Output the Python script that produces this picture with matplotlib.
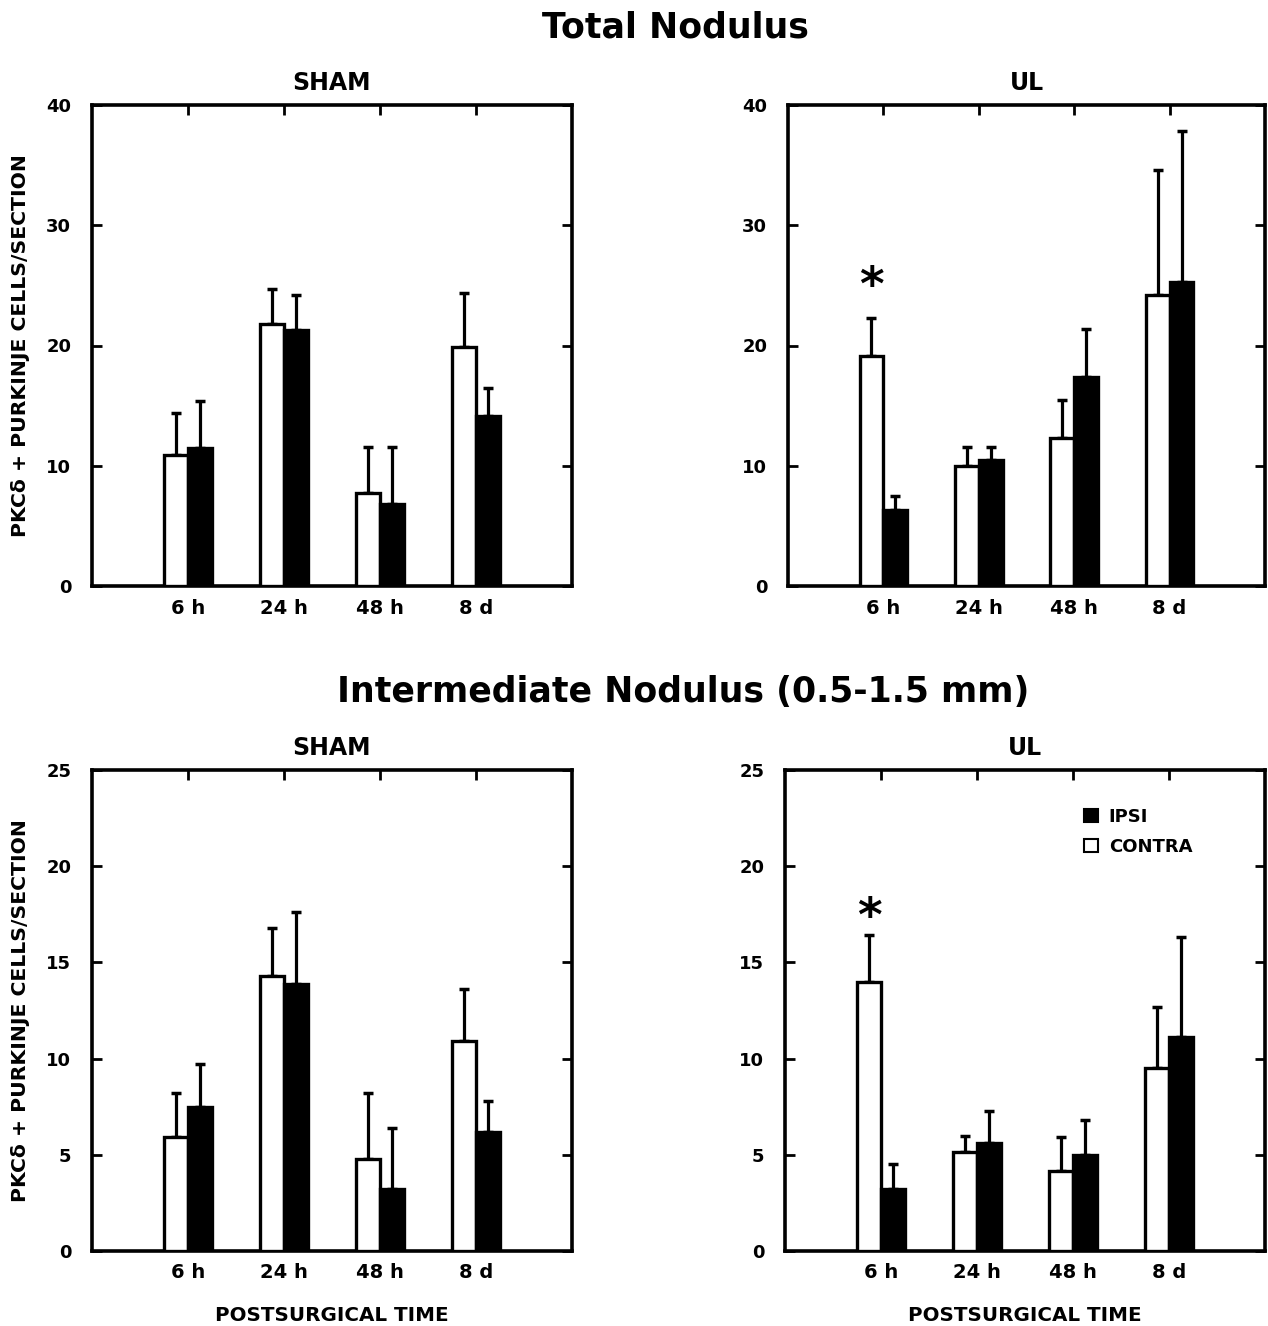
import matplotlib
matplotlib.use("Agg")
import matplotlib.pyplot as plt
import matplotlib.patches as mpatches
import numpy as np

plt.rcParams['font.family'] = ['DejaVu Sans']
plt.rcParams['font.weight'] = 'bold'

times = ["6 h", "24 h", "48 h", "8 d"]

# Total nodulus
total_sham_contra = [10.9, 21.8, 7.7, 19.9]
total_sham_contra_err = [3.5, 2.9, 3.9, 4.5]
total_sham_ipsi = [11.5, 21.3, 6.8, 14.1]
total_sham_ipsi_err = [3.9, 2.9, 4.8, 2.4]

total_ul_contra = [19.1, 10.0, 12.3, 24.2]
total_ul_contra_err = [3.2, 1.6, 3.2, 10.4]
total_ul_ipsi = [6.3, 10.5, 17.4, 25.3]
total_ul_ipsi_err = [1.2, 1.1, 4.0, 12.5]

# Intermediate nodulus (0.5-1.5 mm)
inter_sham_contra = [5.95, 14.3, 4.8, 10.9]
inter_sham_contra_err = [2.25, 2.5, 3.4, 2.7]
inter_sham_ipsi = [7.5, 13.9, 3.2, 6.2]
inter_sham_ipsi_err = [2.2, 3.7, 3.2, 1.6]

inter_ul_contra = [14.0, 5.15, 4.15, 9.5]
inter_ul_contra_err = [2.4, 0.85, 1.75, 3.2]
inter_ul_ipsi = [3.2, 5.6, 5.0, 11.1]
inter_ul_ipsi_err = [1.3, 1.7, 1.8, 5.2]

W, H = 1268, 1326
fig = plt.figure(figsize=(W / 100, H / 100), dpi=100)


def px_axes(x0, y0, x1, y1):
    return fig.add_axes([x0 / W, 1 - y1 / H, (x1 - x0) / W, (y1 - y0) / H])


def draw_panel(ax, contra, contra_err, ipsi, ipsi_err, ymax, step, star=None):
    x = np.arange(1, len(times) + 1)
    w = 0.25
    ax.bar(x - w / 2, contra, w, color='white', edgecolor='black', linewidth=2.4, zorder=3)
    ax.bar(x + w / 2, ipsi, w, color='black', edgecolor='black', linewidth=2.4, zorder=3)
    zeros = np.zeros(len(times))
    ax.errorbar(x - w / 2, contra, yerr=[zeros, contra_err], fmt='none', ecolor='black',
                elinewidth=2.3, capsize=3.5, capthick=2.5, zorder=2)
    ax.errorbar(x + w / 2, ipsi, yerr=[zeros, ipsi_err], fmt='none', ecolor='black',
                elinewidth=2.3, capsize=3.5, capthick=2.5, zorder=2)
    ax.set_xlim(0, 5)
    ax.set_ylim(0, ymax)
    ax.set_xticks(x)
    ax.set_xticklabels(times, fontsize=14, fontweight='bold')
    ax.set_yticks(np.arange(0, ymax + 1, step))
    ax.tick_params(axis='x', bottom=False, top=True, direction='in', length=7, width=2,
                   labelbottom=True, pad=9)
    ax.tick_params(axis='y', left=True, right=True, direction='in', length=7, width=2,
                   labelsize=13, pad=15)
    for lab in ax.get_yticklabels():
        lab.set_fontweight('bold')
    for s in ax.spines.values():
        s.set_linewidth(2.6)
    if star is not None:
        ax.text(1 - w / 2, star, '*', ha='center', va='center', fontsize=34,
                fontweight='bold')


ylab = 'PKC\u03b4 + PURKINJE CELLS/SECTION'

ax1 = px_axes(92, 105, 572, 586)
draw_panel(ax1, total_sham_contra, total_sham_contra_err, total_sham_ipsi,
           total_sham_ipsi_err, 40, 10)
ax1.set_title('SHAM', fontsize=17, fontweight='bold', pad=11)
ax1.set_ylabel(ylab, fontsize=14.7, fontweight='bold', labelpad=12)

ax2 = px_axes(788, 105, 1265, 586)
draw_panel(ax2, total_ul_contra, total_ul_contra_err, total_ul_ipsi,
           total_ul_ipsi_err, 40, 10, star=24.8)
ax2.set_title('UL', fontsize=17, fontweight='bold', pad=11)

ax3 = px_axes(92, 770, 572, 1251)
draw_panel(ax3, inter_sham_contra, inter_sham_contra_err, inter_sham_ipsi,
           inter_sham_ipsi_err, 25, 5)
ax3.set_title('SHAM', fontsize=17, fontweight='bold', pad=11)
ax3.set_ylabel(ylab, fontsize=14.7, fontweight='bold', labelpad=12)
ax3.set_xlabel('POSTSURGICAL TIME', fontsize=14.3, fontweight='bold', labelpad=17)

ax4 = px_axes(785, 770, 1265, 1251)
draw_panel(ax4, inter_ul_contra, inter_ul_contra_err, inter_ul_ipsi,
           inter_ul_ipsi_err, 25, 5, star=17.3)
ax4.set_title('UL', fontsize=17, fontweight='bold', pad=11)
ax4.set_xlabel('POSTSURGICAL TIME', fontsize=14.3, fontweight='bold', labelpad=17)

handles = [mpatches.Patch(facecolor='black', edgecolor='black', linewidth=1.5),
           mpatches.Patch(facecolor='white', edgecolor='black', linewidth=1.5)]
ax4.legend(handles, ['IPSI', 'CONTRA'], loc='upper left', bbox_to_anchor=(0.59, 0.955),
           frameon=False, handlelength=0.75, handleheight=0.75, handletextpad=0.6,
           labelspacing=0.65, prop={'weight': 'bold', 'size': 13})

fig.text(675 / W, 1 - 28 / H, 'Total Nodulus', ha='center', va='center',
         fontsize=25, fontweight='bold')
fig.text(683 / W, 1 - 692 / H, 'Intermediate Nodulus (0.5-1.5 mm)', ha='center',
         va='center', fontsize=25, fontweight='bold')

fig.savefig('out.png', dpi=100)
